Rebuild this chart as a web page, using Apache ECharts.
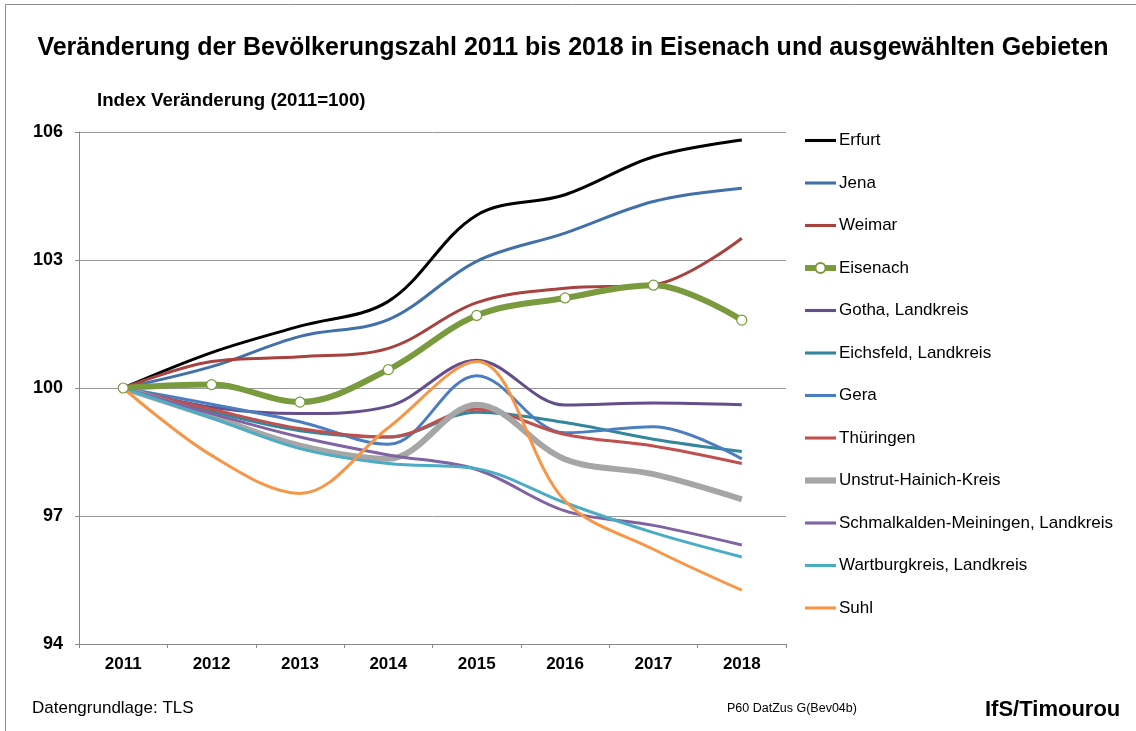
<!DOCTYPE html>
<html>
<head>
<meta charset="utf-8">
<script src="https://cdn.jsdelivr.net/npm/echarts@6/dist/echarts.min.js"></script>
<style>
	html, body { margin: 0; padding: 0; background: #fff; }
	#chart { width: 1136px; height: 731px; }
</style>
</head>
<body>
<div id="chart"></div>
<script>
var years = ['2011', '2012', '2013', '2014', '2015', '2016', '2017', '2018'];
var yTicks = { min: 94, max: 106, interval: 3 };

var erfurt       = [100, 100.83, 101.45, 102.03, 104.05, 104.53, 105.42, 105.81];
var jena         = [100, 100.50, 101.21, 101.60, 102.97, 103.63, 104.37, 104.68];
var weimar       = [100, 100.62, 100.73, 100.93, 102.00, 102.34, 102.42, 103.51];
var eisenach     = [100, 100.08, 99.67, 100.43, 101.70, 102.11, 102.41, 101.59];
var gotha        = [100, 99.55, 99.40, 99.57, 100.65, 99.60, 99.65, 99.61];
var eichsfeld    = [100, 99.45, 99.00, 98.85, 99.43, 99.19, 98.80, 98.51];
var gera         = [100, 99.62, 99.21, 98.68, 100.29, 98.95, 99.09, 98.34];
var thueringen   = [100, 99.50, 99.05, 98.85, 99.50, 98.91, 98.64, 98.23];
var unstrut      = [100, 99.33, 98.65, 98.34, 99.61, 98.33, 97.98, 97.39];
var schmalkalden = [100, 99.40, 98.85, 98.43, 98.09, 97.12, 96.78, 96.32];
var wartburg     = [100, 99.30, 98.58, 98.23, 98.11, 97.31, 96.61, 96.04];
var suhl         = [100, 98.42, 97.53, 99.07, 100.62, 97.35, 96.22, 95.26];

var font = 'Liberation Sans, Arial, sans-serif';
// legend icons: plain bars instead of line+circle
var thinIcon = 'path://M0,0 L30,0 L30,3 L0,3 Z';
var thickIcon = 'path://M0,0 L30,0 L30,6 L0,6 Z';

function lineSeries(name, data, color, width) {
	return {
		name: name,
		type: 'line',
		data: data,
		smooth: 0.35,
		symbol: 'none',
		lineStyle: { color: color, width: width },
		itemStyle: { color: color }
	};
}

var dom = document.getElementById('chart');
var myChart = echarts.init(dom);
var option = {
	animation: false,
	backgroundColor: '#fff',
	title: {
		text: 'Veränderung der Bevölkerungszahl 2011 bis 2018 in Eisenach und ausgewählten Gebieten',
		left: 573,
		textAlign: 'center',
		top: 36,
		padding: 0,
		textStyle: { fontFamily: font, fontSize: 25, fontWeight: 'bold', color: '#000' }
	},
	grid: { left: 79, top: 132, width: 707, height: 512 },
	legend: {
		orient: 'vertical',
		left: 802,
		top: 132,
		padding: 0,
		itemWidth: 31,
		itemHeight: 12.5,
		itemGap: 25.5,
		textStyle: { fontFamily: font, fontSize: 17, color: '#000', padding: [0, 0, 0, -2] },
		data: [
			{ name: 'Erfurt', icon: thinIcon },
			{ name: 'Jena', icon: thinIcon },
			{ name: 'Weimar', icon: thinIcon },
			{ name: 'Eisenach', lineStyle: { width: 6 } },
			{ name: 'Gotha, Landkreis', icon: thinIcon },
			{ name: 'Eichsfeld, Landkreis', icon: thinIcon },
			{ name: 'Gera', icon: thinIcon },
			{ name: 'Thüringen', icon: thinIcon },
			{ name: 'Unstrut-Hainich-Kreis', icon: thickIcon },
			{ name: 'Schmalkalden-Meiningen, Landkreis', icon: thinIcon },
			{ name: 'Wartburgkreis, Landkreis', icon: thinIcon },
			{ name: 'Suhl', icon: thinIcon }
		]
	},
	xAxis: {
		type: 'category',
		data: years,
		boundaryGap: true,
		axisLine: { lineStyle: { color: '#888', width: 1 } },
		axisTick: { show: true, length: 4, lineStyle: { color: '#888' } },
		axisLabel: { margin: 12, fontFamily: font, fontSize: 17, fontWeight: 'bold', color: '#000' }
	},
	yAxis: {
		type: 'value',
		min: yTicks.min,
		max: yTicks.max,
		interval: yTicks.interval,
		name: 'Index Veränderung (2011=100)',
		nameLocation: 'end',
		nameGap: 22,
		nameTextStyle: { fontFamily: font, fontSize: 18.7, fontWeight: 'bold', color: '#000', align: 'left', padding: [0, 0, 0, 18] },
		axisLine: { show: true, lineStyle: { color: '#888', width: 1 } },
		axisTick: { show: true, length: 4, lineStyle: { color: '#888' } },
		splitLine: { lineStyle: { color: '#999', width: 1 } },
		axisLabel: { margin: 16, fontFamily: font, fontSize: 18, fontWeight: 'bold', color: '#000' }
	},
	graphic: [
		{ type: 'rect', shape: { x: 5.5, y: 4.5, width: 1200, height: 800 }, style: { fill: 'none', stroke: '#8c8c8c', lineWidth: 1 }, silent: true },
		{ type: 'text', left: 32, top: 700, style: { text: 'Datengrundlage: TLS', fontFamily: font, fontSize: 17, fill: '#000' } },
		{ type: 'text', left: 727, top: 702, style: { text: 'P60 DatZus G(Bev04b)', fontFamily: font, fontSize: 12.5, fill: '#000' } },
		{ type: 'text', left: 985, top: 699, style: { text: 'IfS/Timourou', fontFamily: font, fontSize: 22, fontWeight: 'bold', fill: '#000' } }
	],
	series: [
		lineSeries('Erfurt', erfurt, '#000000', 3),
		lineSeries('Jena', jena, '#4270A8', 3),
		lineSeries('Weimar', weimar, '#A8423F', 3),
		{
			name: 'Eisenach',
			type: 'line',
			data: eisenach,
			smooth: 0.35,
			symbol: 'circle',
			symbolSize: 10,
			z: 5,
			lineStyle: { color: '#7A9A3E', width: 6 },
			itemStyle: { color: '#fff', borderColor: '#7A9A3E', borderWidth: 1.2 }
		},
		lineSeries('Gotha, Landkreis', gotha, '#644E8C', 3),
		lineSeries('Eichsfeld, Landkreis', eichsfeld, '#33879C', 3),
		lineSeries('Gera', gera, '#4A7EC0', 3),
		lineSeries('Thüringen', thueringen, '#C0504D', 3),
		lineSeries('Unstrut-Hainich-Kreis', unstrut, '#A6A6A6', 6),
		lineSeries('Schmalkalden-Meiningen, Landkreis', schmalkalden, '#7F63A2', 3),
		lineSeries('Wartburgkreis, Landkreis', wartburg, '#4BACC6', 3),
		lineSeries('Suhl', suhl, '#F79646', 3)
	]
};
if (option && typeof option === "object") {
	myChart.setOption(option, true);
}
</script>
</body>
</html>
